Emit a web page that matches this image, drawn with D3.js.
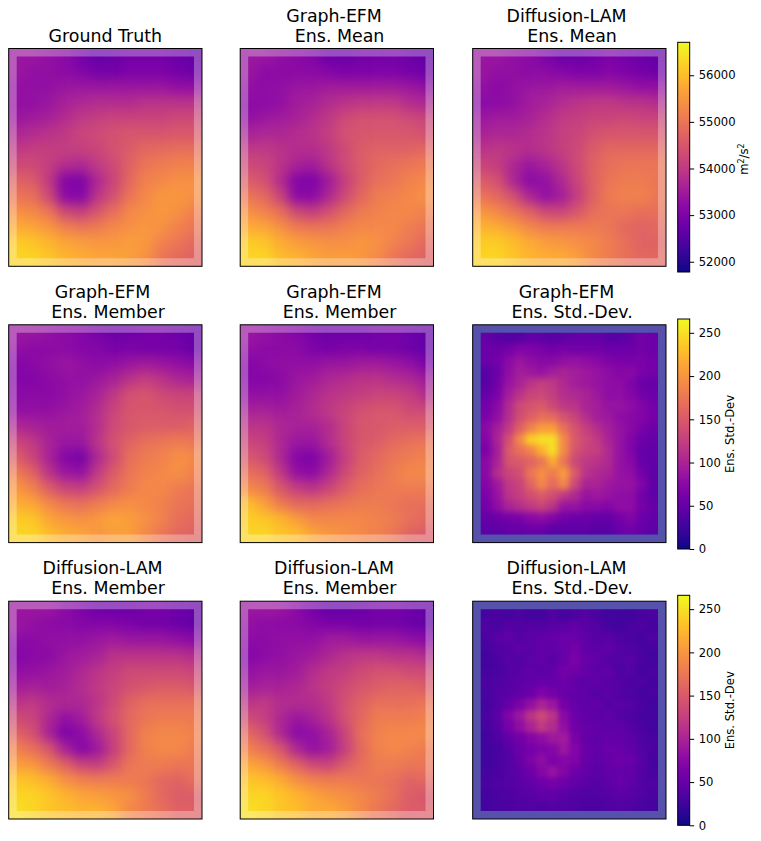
<!DOCTYPE html>
<html>
<head>
<meta charset="utf-8">
<script src="https://d3js.org/d3.v7.min.js"></script>
<style>
  html, body { margin: 0; padding: 0; background: #fff; }
  svg { display: block; }
  text { font-family: "DejaVu Sans", sans-serif; fill: #000; }
</style>
</head>
<body>
<div id="chart"></div>
<script>
// fields are in 1000 m2/s2, 12 columns by 14 rows
const groundTruth = [
  [53.4,53.4,53.3,53.2,52.9,52.7,52.8,52.9,52.9,52.9,52.8,52.7],
  [53.4,53.3,53.3,53.2,53.1,52.9,52.9,53.0,53.0,53.0,52.9,52.8],
  [53.3,53.3,53.3,53.4,53.4,53.4,53.4,53.4,53.4,53.4,53.3,53.3],
  [53.3,53.3,53.4,53.6,53.7,53.8,53.8,53.8,53.9,53.9,53.9,53.9],
  [53.4,53.5,53.6,53.8,54.0,54.1,54.2,54.2,54.2,54.2,54.3,54.3],
  [53.7,53.8,53.9,54.0,54.2,54.3,54.4,54.5,54.5,54.5,54.55,54.55],
  [54.0,54.1,54.1,54.1,54.1,54.2,54.4,54.6,54.8,54.85,54.9,54.9],
  [54.3,54.3,54.1,53.8,53.7,54.0,54.3,54.7,55.0,55.1,55.2,55.2],
  [54.7,54.6,54.0,53.1,53.0,53.7,54.2,54.8,55.2,55.3,55.4,55.4],
  [55.0,54.9,54.3,53.2,53.1,53.9,54.4,55.0,55.3,55.5,55.5,55.4],
  [55.4,55.3,55.0,54.3,54.1,54.5,54.9,55.3,55.4,55.5,55.4,55.2],
  [55.8,55.7,55.5,55.2,55.0,55.1,55.3,55.4,55.5,55.4,55.2,55.0],
  [56.2,56.1,55.9,55.7,55.6,55.5,55.5,55.6,55.5,55.2,55.0,54.8],
  [56.3,56.3,56.1,55.9,55.8,55.7,55.7,55.6,55.4,55.0,54.8,54.7]
];
const graphMean = [
  [53.4,53.4,53.3,53.2,53.1,52.8,52.8,52.9,52.9,52.9,52.8,52.7],
  [53.4,53.2,53.2,53.2,53.2,53.1,53.0,53.0,53.0,53.0,52.9,52.8],
  [53.3,53.2,53.3,53.4,53.4,53.5,53.5,53.5,53.5,53.5,53.4,53.3],
  [53.2,53.2,53.3,53.5,53.6,53.8,53.9,54.0,54.0,54.0,53.8,53.7],
  [53.3,53.4,53.5,53.6,53.8,54.0,54.3,54.4,54.4,54.4,54.3,54.2],
  [53.6,53.7,53.7,53.8,53.9,54.1,54.4,54.5,54.5,54.5,54.5,54.4],
  [54.0,54.0,53.9,53.8,53.8,54.0,54.3,54.6,54.7,54.7,54.7,54.8],
  [54.3,54.2,53.9,53.6,53.5,53.9,54.3,54.6,54.8,54.9,55.0,55.1],
  [54.6,54.4,53.8,53.1,53.0,53.5,54.1,54.6,54.9,55.0,55.2,55.3],
  [55.0,54.8,54.2,53.2,53.2,53.7,54.3,54.8,55.1,55.2,55.3,55.4],
  [55.4,55.2,54.9,54.3,54.1,54.4,54.8,55.1,55.2,55.3,55.3,55.2],
  [55.8,55.7,55.4,55.1,55.0,55.0,55.2,55.3,55.3,55.3,55.1,55.0],
  [56.2,56.1,55.8,55.6,55.5,55.4,55.4,55.5,55.4,55.2,55.0,54.8],
  [56.3,56.3,56.0,55.9,55.7,55.6,55.6,55.5,55.3,55.0,54.8,54.7]
];
const diffMean = [
  [53.4,53.4,53.3,53.2,53.0,52.8,52.8,52.9,53.0,52.9,52.8,52.7],
  [53.4,53.3,53.3,53.2,53.2,53.1,53.0,53.0,53.1,53.0,52.9,52.8],
  [53.3,53.2,53.3,53.4,53.4,53.5,53.5,53.5,53.5,53.4,53.3,53.3],
  [53.2,53.2,53.3,53.5,53.6,53.8,53.9,54.0,54.0,53.9,53.9,53.8],
  [53.4,53.5,53.5,53.6,53.8,54.0,54.1,54.2,54.2,54.3,54.2,54.2],
  [53.6,53.7,53.7,53.8,53.9,54.1,54.2,54.4,54.5,54.5,54.5,54.5],
  [53.9,54.0,53.9,53.8,53.9,54.1,54.3,54.6,54.8,54.8,54.8,54.8],
  [54.2,54.1,53.7,53.4,53.6,53.9,54.3,54.7,54.9,55.0,55.0,55.0],
  [54.6,54.4,53.7,53.2,53.3,53.7,54.2,54.7,55.0,55.1,55.1,55.0],
  [55.0,54.8,54.4,53.7,53.3,53.5,54.1,54.7,55.1,55.2,55.2,55.0],
  [55.5,55.3,55.0,54.7,54.3,54.2,54.5,54.9,55.0,55.0,54.9,54.9],
  [55.9,55.8,55.6,55.3,55.1,55.1,55.1,55.1,55.0,54.8,54.7,54.8],
  [56.2,56.2,56.0,55.8,55.6,55.5,55.4,55.3,55.1,54.9,54.7,54.7],
  [56.3,56.3,56.1,55.9,55.8,55.8,55.6,55.3,55.1,54.9,54.8,54.8]
];
const graphMember1 = [
  [53.4,53.4,53.3,53.2,53.1,52.9,52.8,52.8,52.9,52.9,52.8,52.7],
  [53.3,53.2,53.2,53.2,53.1,53.1,52.9,53.0,52.9,52.9,52.9,52.7],
  [53.1,53.2,53.3,53.4,53.3,53.2,53.3,53.4,53.5,53.4,53.3,53.2],
  [53.1,53.1,53.2,53.3,53.3,53.4,53.6,53.9,54.1,53.9,53.7,53.6],
  [53.2,53.2,53.2,53.3,53.4,53.6,54.0,54.4,54.5,54.3,54.2,54.2],
  [53.3,53.3,53.3,53.4,53.5,53.8,54.2,54.5,54.5,54.5,54.4,54.4],
  [53.7,53.6,53.5,53.5,53.5,53.8,54.3,54.5,54.6,54.6,54.6,54.7],
  [54.2,54.0,53.6,53.4,53.4,53.9,54.4,54.7,54.9,55.0,55.1,55.0],
  [54.6,54.2,53.6,53.1,52.9,53.7,54.3,54.9,55.1,55.2,55.4,55.3],
  [55.1,54.7,53.9,53.4,53.3,54.0,54.6,55.0,55.2,55.3,55.4,55.2],
  [55.5,55.2,54.6,54.2,54.1,54.4,54.8,55.1,55.3,55.3,55.1,55.0],
  [55.8,55.7,55.3,55.0,54.9,55.1,55.3,55.4,55.3,55.2,55.0,54.9],
  [56.2,56.1,55.7,55.5,55.4,55.5,55.7,55.6,55.4,55.2,54.9,54.8],
  [56.3,56.3,56.0,55.8,55.7,55.5,55.6,55.6,55.3,55.0,54.8,54.7]
];
const graphMember2 = [
  [53.4,53.3,53.2,53.1,52.9,52.8,52.8,52.8,52.9,52.9,52.8,52.7],
  [53.3,53.2,53.2,53.2,53.0,52.9,53.0,53.0,52.9,52.9,52.8,52.7],
  [53.1,53.2,53.3,53.3,53.3,53.4,53.4,53.5,53.5,53.4,53.3,53.0],
  [53.1,53.1,53.2,53.4,53.5,53.7,53.8,53.9,53.9,53.8,53.7,53.5],
  [53.3,53.3,53.3,53.5,53.7,53.9,54.0,54.1,54.2,54.2,54.1,53.8],
  [53.6,53.6,53.5,53.6,53.8,54.0,54.2,54.4,54.5,54.5,54.3,54.3],
  [53.9,53.9,53.7,53.6,53.6,53.8,54.2,54.5,54.5,54.6,54.6,54.6],
  [54.2,54.1,53.7,53.4,53.4,53.8,54.2,54.5,54.6,54.8,54.9,55.0],
  [54.5,54.3,53.7,53.1,53.0,53.5,54.1,54.6,54.8,55.0,55.1,55.2],
  [54.9,54.7,54.0,53.3,53.2,53.7,54.3,54.7,54.9,55.1,55.3,55.3],
  [55.3,55.1,54.5,54.1,53.9,54.2,54.6,54.9,55.0,55.1,55.1,55.1],
  [56.0,55.6,55.1,54.8,54.8,54.9,55.0,55.1,55.1,55.0,54.9,54.9],
  [56.2,56.1,55.9,55.6,55.3,55.3,55.3,55.3,55.2,55.1,54.9,54.8],
  [56.3,56.3,56.1,56.0,55.7,55.5,55.4,55.3,55.2,55.0,54.7,54.6]
];
const diffMember1 = [
  [53.4,53.4,53.4,53.2,53.0,52.8,52.8,52.8,52.9,52.9,52.8,52.7],
  [53.4,53.3,53.2,53.2,53.1,53.1,53.1,53.0,52.9,52.9,52.8,52.7],
  [53.2,53.2,53.3,53.3,53.3,53.4,53.5,53.4,53.4,53.4,53.3,53.2],
  [53.1,53.2,53.2,53.4,53.5,53.6,53.9,53.9,53.9,53.9,53.9,53.8],
  [53.3,53.3,53.4,53.5,53.7,53.9,54.1,54.3,54.3,54.3,54.3,54.2],
  [53.5,53.6,53.5,53.6,53.8,54.0,54.2,54.4,54.5,54.6,54.6,54.5],
  [53.9,54.0,53.8,53.7,53.7,53.9,54.3,54.7,54.9,54.9,54.9,54.9],
  [54.3,54.2,53.7,53.3,53.5,54.0,54.4,54.8,55.0,55.1,55.1,55.1],
  [54.7,54.4,53.6,53.0,53.2,53.7,54.2,54.8,55.2,55.3,55.3,55.2],
  [55.2,54.9,54.5,53.6,53.1,53.4,54.1,54.8,55.2,55.3,55.3,55.1],
  [55.6,55.5,55.1,54.7,54.2,54.1,54.5,55.0,55.1,55.1,55.0,55.0],
  [56.1,56.0,55.8,55.4,55.2,55.1,55.1,55.1,55.0,54.8,54.7,54.9],
  [56.3,56.3,56.1,55.9,55.7,55.6,55.5,55.4,55.1,54.8,54.6,54.6],
  [56.4,56.3,56.1,56.0,55.9,55.9,55.7,55.3,55.1,54.9,54.7,54.7]
];
const diffMember2 = [
  [53.4,53.4,53.4,53.2,52.9,52.7,52.7,52.8,52.9,52.9,52.8,52.7],
  [53.3,53.2,53.2,53.2,53.1,53.0,53.0,52.9,52.9,52.9,52.8,52.7],
  [53.2,53.2,53.3,53.3,53.3,53.5,53.5,53.4,53.4,53.4,53.3,53.2],
  [53.1,53.2,53.3,53.4,53.5,53.7,53.9,54.0,54.0,53.9,53.9,53.8],
  [53.3,53.4,53.4,53.5,53.8,54.0,54.1,54.3,54.4,54.4,54.3,54.3],
  [53.5,53.6,53.6,53.7,53.9,54.1,54.3,54.5,54.6,54.7,54.7,54.6],
  [53.9,54.0,53.8,53.8,53.8,54.0,54.4,54.7,54.9,54.9,54.9,55.0],
  [54.3,54.1,53.7,53.4,53.6,53.9,54.4,54.8,55.1,55.1,55.1,55.2],
  [54.8,54.4,53.7,53.2,53.3,53.6,54.2,54.9,55.2,55.3,55.3,55.3],
  [55.2,54.9,54.5,53.7,53.3,53.5,54.1,54.8,55.2,55.3,55.2,55.1],
  [55.7,55.5,55.1,54.7,54.3,54.2,54.6,54.9,55.1,55.1,55.0,55.0],
  [56.1,56.0,55.8,55.4,55.2,55.1,55.1,55.0,55.0,54.9,54.7,54.8],
  [56.3,56.3,56.1,55.9,55.7,55.5,55.4,55.3,55.1,54.9,54.6,54.5],
  [56.4,56.3,56.1,56.0,55.8,55.8,55.6,55.3,55.0,54.8,54.6,54.6]
];
// std-dev in m2/s2, 16 columns by 18 rows, inner area only
const graphStd = [
  [50,42,40,40,50,45,42,45,50,50,50,42,42,48,60,55],
  [55,55,60,70,68,65,60,65,60,60,60,55,55,55,60,55],
  [55,60,75,88,80,75,75,82,85,80,75,68,65,65,65,60],
  [42,55,80,95,90,85,95,100,95,90,85,78,72,75,65,60],
  [40,60,85,100,115,125,120,105,95,90,85,80,78,70,55,50],
  [50,65,95,115,130,135,125,110,105,100,90,80,80,72,60,55],
  [60,75,105,135,145,150,135,120,115,100,95,85,85,80,70,60],
  [65,80,110,140,155,170,165,145,130,110,95,90,80,75,70,62],
  [75,95,120,155,185,205,205,170,145,125,110,95,85,75,65,55],
  [70,100,140,190,240,250,250,190,150,135,120,100,85,70,55,50],
  [65,95,150,170,185,220,250,190,145,130,125,105,85,70,50,48],
  [75,100,145,150,160,175,215,175,135,120,115,105,85,75,52,48],
  [75,110,130,140,175,195,180,205,150,115,105,100,85,80,60,45],
  [70,90,120,130,160,190,165,190,135,100,100,90,85,85,70,45],
  [65,85,115,125,140,150,140,120,105,85,90,85,80,80,60,45],
  [60,80,100,110,120,130,115,85,85,75,75,70,80,80,62,50],
  [50,55,60,65,75,80,70,60,55,55,50,50,60,70,55,50],
  [45,45,50,50,55,55,45,45,45,45,42,42,55,60,50,45]
];
const diffStd = [
  [30,34,30,35,28,28,38,30,35,40,32,28,26,28,30,34],
  [36,32,40,36,40,38,42,44,48,42,38,30,28,32,36,30],
  [34,42,45,40,44,46,50,55,52,45,40,42,36,34,30,36],
  [30,36,40,45,42,48,46,52,60,48,44,46,40,36,32,30],
  [28,34,42,38,44,48,42,52,65,52,46,40,38,42,34,28],
  [30,32,38,42,46,44,48,60,58,50,44,46,36,38,30,34],
  [34,36,40,44,48,52,50,56,48,44,48,42,40,34,36,30],
  [32,38,42,48,55,68,62,52,48,46,40,44,38,36,30,32],
  [30,38,50,65,82,100,88,62,50,46,48,40,42,38,34,28],
  [32,44,68,88,115,135,115,75,55,48,44,46,40,36,32,30],
  [30,40,62,80,100,120,108,82,58,50,48,44,46,40,34,28],
  [28,36,48,58,70,78,90,92,65,50,46,50,48,44,36,32],
  [26,30,40,55,62,68,72,88,70,52,48,52,52,48,38,34],
  [26,32,38,50,66,78,66,72,68,52,46,50,56,54,42,30],
  [30,34,38,46,56,72,85,70,56,48,44,48,50,48,40,32],
  [32,36,38,42,48,56,62,56,48,44,40,44,52,46,38,36],
  [30,34,36,40,42,46,48,44,40,36,38,40,44,42,38,34],
  [28,32,34,36,38,36,40,38,36,34,34,36,38,36,32,30]
];
const fieldTicks = [52000, 53000, 54000, 55000, 56000];
const stdTicks = [0, 50, 100, 150, 200, 250];
const fieldDomain = [51780, 56707];
const stdDomain = [0, 266];

// the original titles carry a space either side of the line break
const panels = [
  { title: ["Ground Truth"], grid: groundTruth },
  { title: ["Graph-EFM ", " Ens. Mean"], grid: graphMean },
  { title: ["Diffusion-LAM ", " Ens. Mean"], grid: diffMean },
  { title: ["Graph-EFM ", " Ens. Member"], grid: graphMember1 },
  { title: ["Graph-EFM ", " Ens. Member"], grid: graphMember2 },
  { title: ["Graph-EFM ", " Ens. Std.-Dev."], grid: graphStd, std: true },
  { title: ["Diffusion-LAM ", " Ens. Member"], grid: diffMember1 },
  { title: ["Diffusion-LAM ", " Ens. Member"], grid: diffMember2 },
  { title: ["Diffusion-LAM ", " Ens. Std.-Dev."], grid: diffStd, std: true }
];

const W = 761, H = 841;
const colX = [8.7, 240.2, 472.7];
const rowY = [48.5, 324.8, 601.2];
const panelW = 193.3, panelH = 217.8;
const border = 8;
const bleed = 40;

const svg = d3.select("#chart").append("svg").attr("width", W).attr("height", H);
const defs = svg.append("defs");

[["blurField", 6], ["blurStd1", 3], ["blurStd2", 2.5]].forEach(([id, s]) => {
  defs.append("filter").attr("id", id)
    .attr("color-interpolation-filters", "sRGB")
    .append("feGaussianBlur").attr("stdDeviation", s);
});

const fieldColor = d3.scaleSequential(d3.interpolatePlasma).domain(fieldDomain);
const stdColor = d3.scaleSequential(d3.interpolatePlasma).domain(stdDomain);

panels.forEach((p, i) => {
  const px = colX[i % 3], py = rowY[Math.floor(i / 3)];
  const g = svg.append("g").attr("transform", `translate(${px},${py})`);
  const inset = p.std ? border : 0;
  const w = panelW - 2 * inset, h = panelH - 2 * inset;

  defs.append("clipPath").attr("id", "clip" + i)
    .append("rect").attr("x", inset).attr("y", inset).attr("width", w).attr("height", h);

  if (p.std) {
    g.append("rect").attr("width", panelW).attr("height", panelH).attr("fill", stdColor(0));
  }

  const x = d3.scaleBand().domain(d3.range(p.grid[0].length)).range([inset, inset + w]);
  const y = d3.scaleBand().domain(d3.range(p.grid.length)).range([inset, inset + h]);
  const nc = p.grid[0].length, nr = p.grid.length;
  const cells = p.grid.flatMap((row, r) => row.map((v, c) => ({ r, c, v })));
  const color = d => p.std ? stdColor(d.v) : fieldColor(d.v * 1000);
  const filterId = !p.std ? "blurField" : (i === 5 ? "blurStd1" : "blurStd2");

  // edge cells run past the clip so the blur does not fade at the frame
  g.append("g").attr("clip-path", `url(#clip${i})`)
    .append("g").attr("filter", `url(#${filterId})`)
    .selectAll("rect").data(cells).join("rect")
    .attr("x", d => x(d.c) - (d.c === 0 ? bleed : 0))
    .attr("y", d => y(d.r) - (d.r === 0 ? bleed : 0))
    .attr("width", d => x.bandwidth() + 0.5 + (d.c === 0 || d.c === nc - 1 ? bleed : 0))
    .attr("height", d => y.bandwidth() + 0.5 + (d.r === 0 || d.r === nr - 1 ? bleed : 0))
    .attr("fill", color);

  // boundary band
  g.append("path")
    .attr("d", `M0,0H${panelW}V${panelH}H0Z M${border},${border}V${panelH - border}H${panelW - border}V${border}Z`)
    .attr("fill", "#fff").attr("fill-opacity", 0.3);

  g.append("rect").attr("width", panelW).attr("height", panelH)
    .attr("fill", "none").attr("stroke", "#000").attr("stroke-width", 1);

  const lines = p.title;
  g.append("text").attr("text-anchor", "middle").attr("font-size", 17.4)
    .style("white-space", "pre")
    .selectAll("tspan").data(lines).join("tspan")
    .attr("x", panelW / 2)
    .attr("y", (d, k) => -7 - (lines.length - 1 - k) * 20)
    .text(d => d);
});

// colour bars
const bars = [
  { top: 42.3, bottom: 272, domain: fieldDomain, ticks: fieldTicks, color: fieldColor, label: "field" },
  { top: 319, bottom: 549, domain: stdDomain, ticks: stdTicks, color: stdColor, label: "Ens. Std.-Dev" },
  { top: 595.3, bottom: 825.3, domain: stdDomain, ticks: stdTicks, color: stdColor, label: "Ens. Std.-Dev" }
];
const barX = 677.7, barW = 12;

bars.forEach((b, i) => {
  const y = d3.scaleLinear().domain(b.domain).range([b.bottom, b.top]);
  const grad = defs.append("linearGradient").attr("id", "cbar" + i)
    .attr("x1", 0).attr("y1", 1).attr("x2", 0).attr("y2", 0);
  d3.range(0, 1.001, 0.05).forEach(t => {
    grad.append("stop").attr("offset", t).attr("stop-color", d3.interpolatePlasma(t));
  });
  svg.append("rect").attr("x", barX).attr("y", b.top)
    .attr("width", barW).attr("height", b.bottom - b.top)
    .attr("fill", `url(#cbar${i})`).attr("stroke", "#000").attr("stroke-width", 1);

  const axis = svg.append("g").attr("transform", `translate(${barX + barW},0)`)
    .call(d3.axisRight(y).tickValues(b.ticks).tickFormat(d3.format("d")).tickSize(4.5).tickPadding(4.5));
  axis.select(".domain").remove();
  axis.selectAll("line").attr("stroke", "#000").attr("stroke-width", 1);
  axis.selectAll("text").attr("font-size", 11.6).attr("font-family", "DejaVu Sans").attr("fill", "#000");

  const mid = (b.top + b.bottom) / 2;
  if (b.label === "field") {
    const t = svg.append("text").attr("text-anchor", "middle").attr("font-size", 11.6)
      .attr("transform", `translate(748,${mid + 2}) rotate(-90)`);
    t.append("tspan").text("m");
    t.append("tspan").attr("font-size", 8).attr("dy", -4.5).text("2");
    t.append("tspan").attr("dy", 4.5).text("/s");
    t.append("tspan").attr("font-size", 8).attr("dy", -4.5).text("2");
  } else {
    svg.append("text").attr("text-anchor", "middle").attr("font-size", 11.6)
      .attr("transform", `translate(734,${mid}) rotate(-90)`)
      .text(b.label);
  }
});
</script>
</body>
</html>
